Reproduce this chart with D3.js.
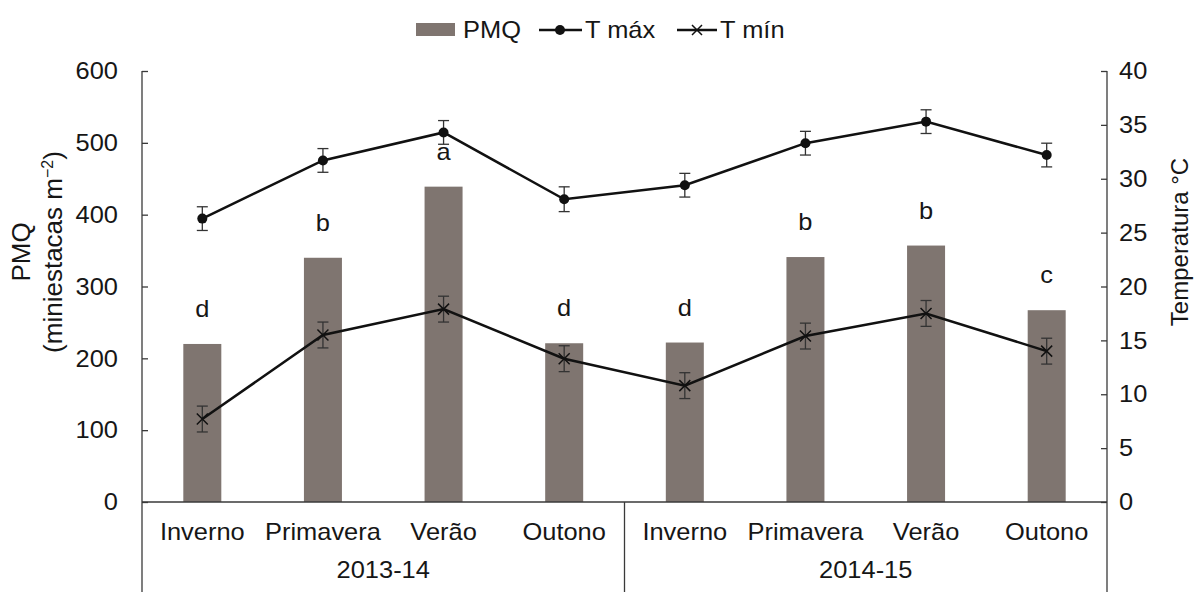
<!DOCTYPE html>
<html>
<head>
<meta charset="utf-8">
<script src="https://cdn.jsdelivr.net/npm/d3@7/dist/d3.min.js"></script>
<style>
  html, body { margin: 0; padding: 0; background: #fff; }
  svg { display: block; }
  text { font-family: "Liberation Sans", Arial, sans-serif; fill: #161616; }
  /* slightly widened glyphs */
  .sx { transform-box: fill-box; transform: scaleX(1.06); }
  .oc { transform-origin: center; }
  .ol { transform-origin: left center; }
  .or { transform-origin: right center; }
</style>
</head>
<body>
<svg id="chart" width="1194" height="592"></svg>
<script>
// Seasons per cycle and the two cycles
const categories = ["Inverno", "Primavera", "Verão", "Outono", "Inverno", "Primavera", "Verão", "Outono"];
const years = ["2013-14", "2014-15"];

// PMQ (miniestacas m-2) with significance letters
const pmq = [220, 340, 439, 221, 222, 341, 357, 267];
const pmqLetters = ["d", "b", "a", "d", "d", "b", "b", "c"];

// Temperatures (°C) with standard error
const tMax = [26.3, 31.7, 34.3, 28.1, 29.4, 33.3, 35.3, 32.2];
const tMaxErr = [1.1, 1.1, 1.1, 1.15, 1.1, 1.1, 1.1, 1.1];
const tMin = [7.7, 15.5, 17.9, 13.3, 10.8, 15.4, 17.5, 14.0];
const tMinErr = [1.2, 1.2, 1.2, 1.2, 1.2, 1.2, 1.2, 1.2];

const leftTicks = [0, 100, 200, 300, 400, 500, 600];
const rightTicks = [0, 5, 10, 15, 20, 25, 30, 35, 40];

(function draw() {
  const svg = d3.select("#chart");
  const plotL = 142, plotR = 1107, plotT = 71, plotB = 502, H = 592;
  const fs = 24;
  const axisColor = "#3a3a3a";
  const barColor = "#7f7570";
  const lineColor = "#111";

  const x = d3.scaleBand().domain(d3.range(categories.length)).range([plotL, plotR]).padding(0);
  const yL = d3.scaleLinear().domain([0, 600]).range([plotB, plotT]);
  const yR = d3.scaleLinear().domain([0, 40]).range([plotB, plotT]);
  const cx = i => x(i) + x.bandwidth() / 2;
  const barW = 38;

  // Bars
  svg.append("g").selectAll("rect").data(pmq).join("rect")
    .attr("x", (d, i) => cx(i) - barW / 2)
    .attr("y", d => yL(d))
    .attr("width", barW)
    .attr("height", d => yL(0) - yL(d))
    .attr("fill", barColor);

  // Significance letters
  svg.append("g").selectAll("text").data(pmqLetters).join("text")
    .attr("class", "sx oc")
    .attr("x", (d, i) => cx(i))
    .attr("y", (d, i) => yL(pmq[i]) - 27)
    .attr("text-anchor", "middle")
    .attr("font-size", fs)
    .text(d => d);

  // Left axis
  const axL = svg.append("g").attr("transform", `translate(${plotL},0)`)
    .call(d3.axisLeft(yL).tickValues(leftTicks).tickSizeInner(-6).tickSizeOuter(0).tickPadding(24));
  axL.select(".domain").remove();
  axL.selectAll(".tick line").attr("stroke", axisColor).attr("stroke-width", 1.3);
  axL.selectAll(".tick text").attr("class", "sx or").attr("font-size", fs)
    .attr("font-family", null).attr("fill", "#161616");

  // Right axis
  const axR = svg.append("g").attr("transform", `translate(${plotR},0)`)
    .call(d3.axisRight(yR).tickValues(rightTicks).tickSizeInner(-6).tickSizeOuter(0).tickPadding(12));
  axR.select(".domain").remove();
  axR.selectAll(".tick line").attr("stroke", axisColor).attr("stroke-width", 1.3);
  axR.selectAll(".tick text").attr("class", "sx ol").attr("font-size", fs)
    .attr("font-family", null).attr("fill", "#161616");

  // Frame lines: axes, baseline and cycle separators
  const frame = svg.append("g").attr("stroke", axisColor).attr("stroke-width", 1.3);
  frame.append("line").attr("x1", plotL).attr("x2", plotL).attr("y1", yL(600)).attr("y2", H);
  frame.append("line").attr("x1", plotR).attr("x2", plotR).attr("y1", yR(40)).attr("y2", H);
  frame.append("line").attr("x1", plotL).attr("x2", plotR).attr("y1", plotB).attr("y2", plotB);
  frame.append("line").attr("x1", x(4)).attr("x2", x(4)).attr("y1", plotB).attr("y2", H);

  // Category labels
  svg.append("g").selectAll("text").data(categories).join("text")
    .attr("class", "sx oc")
    .attr("x", (d, i) => cx(i))
    .attr("y", 540)
    .attr("text-anchor", "middle")
    .attr("font-size", fs)
    .text(d => d);

  svg.append("g").selectAll("text").data(years).join("text")
    .attr("class", "sx oc")
    .attr("x", (d, i) => (x(i * 4) + x(i * 4 + 3) + x.bandwidth()) / 2)
    .attr("y", 578)
    .attr("text-anchor", "middle")
    .attr("font-size", fs)
    .text(d => d);

  // Error bars
  function errorBars(vals, errs) {
    const g = svg.append("g").attr("stroke", "#333").attr("stroke-width", 1.3);
    vals.forEach((v, i) => {
      const y1 = yR(v - errs[i]), y2 = yR(v + errs[i]), c = cx(i);
      g.append("line").attr("x1", c).attr("x2", c).attr("y1", y1).attr("y2", y2);
      g.append("line").attr("x1", c - 5.5).attr("x2", c + 5.5).attr("y1", y1).attr("y2", y1);
      g.append("line").attr("x1", c - 5.5).attr("x2", c + 5.5).attr("y1", y2).attr("y2", y2);
    });
  }
  errorBars(tMax, tMaxErr);
  errorBars(tMin, tMinErr);

  const line = d3.line().x((d, i) => cx(i)).y(d => yR(d));

  // T máx
  svg.append("path").datum(tMax).attr("d", line)
    .attr("fill", "none").attr("stroke", lineColor).attr("stroke-width", 2.5);
  svg.append("g").selectAll("circle").data(tMax).join("circle")
    .attr("cx", (d, i) => cx(i)).attr("cy", d => yR(d)).attr("r", 5)
    .attr("fill", lineColor);

  // T mín
  svg.append("path").datum(tMin).attr("d", line)
    .attr("fill", "none").attr("stroke", lineColor).attr("stroke-width", 2.5);
  const xm = 5.5;
  svg.append("g").selectAll("path").data(tMin).join("path")
    .attr("d", (d, i) => {
      const c = cx(i), y = yR(d);
      return `M${c - xm},${y - xm}L${c + xm},${y + xm}M${c - xm},${y + xm}L${c + xm},${y - xm}`;
    })
    .attr("stroke", lineColor).attr("stroke-width", 1.5).attr("fill", "none");

  // Axis titles
  const lt = svg.append("text")
    .attr("transform", "translate(0,252) rotate(-90)")
    .attr("text-anchor", "middle")
    .attr("font-size", 26);
  lt.append("tspan").attr("x", 0).attr("y", 30).text("PMQ");
  const l2 = lt.append("tspan").attr("x", 0).attr("y", 62).text("(miniestacas m");
  l2.append("tspan").attr("font-size", 16).attr("dy", -9).text("−2");
  l2.append("tspan").attr("dy", 9).text(")");

  svg.append("text")
    .attr("transform", "translate(1188,242) rotate(-90)")
    .attr("text-anchor", "middle")
    .attr("font-size", fs)
    .text("Temperatura °C");

  // Legend
  const lg = svg.append("g");
  lg.append("rect").attr("x", 416).attr("y", 23).attr("width", 39).attr("height", 13).attr("fill", barColor);
  lg.append("text").attr("class", "sx ol").attr("x", 463).attr("y", 38).attr("font-size", fs).text("PMQ");
  lg.append("line").attr("x1", 539).attr("x2", 582).attr("y1", 30).attr("y2", 30)
    .attr("stroke", lineColor).attr("stroke-width", 2.5);
  lg.append("circle").attr("cx", 560).attr("cy", 30).attr("r", 5).attr("fill", lineColor);
  lg.append("text").attr("class", "sx ol").attr("x", 585).attr("y", 38).attr("font-size", fs).text("T máx");
  lg.append("line").attr("x1", 677).attr("x2", 717).attr("y1", 30).attr("y2", 30)
    .attr("stroke", lineColor).attr("stroke-width", 2.5);
  lg.append("path")
    .attr("d", `M${697 - 5},${25}L${697 + 5},${35}M${697 - 5},${35}L${697 + 5},${25}`)
    .attr("stroke", lineColor).attr("stroke-width", 1.5);
  lg.append("text").attr("class", "sx ol").attr("x", 720).attr("y", 38).attr("font-size", fs).text("T mín");
})();
</script>
</body>
</html>
